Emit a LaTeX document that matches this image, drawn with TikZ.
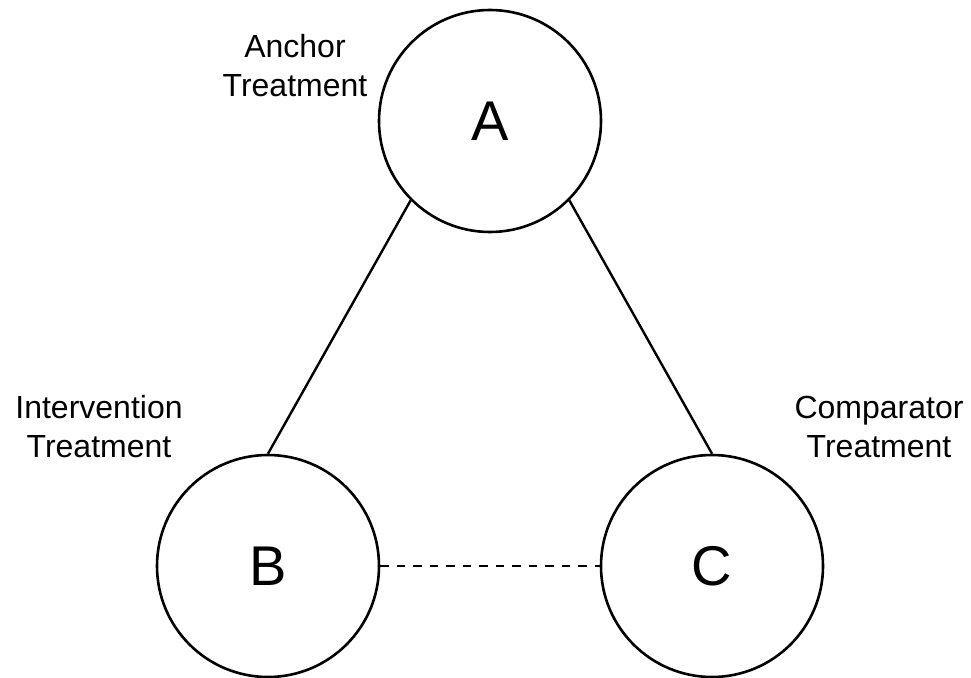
\documentclass[tikz,border=0pt]{standalone}
\usepackage{fontspec}
\setmainfont{Liberation Sans}
\begin{document}
\begin{tikzpicture}[x=1pt,y=-1pt,
  treat/.style={circle,draw=black,line width=2.6pt,minimum size=222pt,inner sep=0pt,font=\fontsize{56}{60}\selectfont},
  lbl/.style={align=center,font=\fontsize{32}{39}\selectfont,inner sep=0pt},
  link/.style={line width=2.4pt},
  dashlink/.style={line width=2.4pt,dash pattern=on 8.5pt off 8pt}]
\useasboundingbox (0,0) rectangle (971,677);
\node[treat] (A) at (490,121) {A};
\node[treat] (B) at (268,566) {B};
\node[treat] (C) at (712,566) {C};
\node[lbl] (la) at (295,66) {Anchor\\Treatment};
\node[lbl] (lb) at (99,427) {Intervention\\Treatment};
\node[lbl] (lc) at (879,427) {Comparator\\Treatment};
\draw[link] (A.south west) -- (B.north);
\draw[link] (A.south east) -- (C.north);
\draw[dashlink] (B.east) -- (C.west);
\end{tikzpicture}
\end{document}
